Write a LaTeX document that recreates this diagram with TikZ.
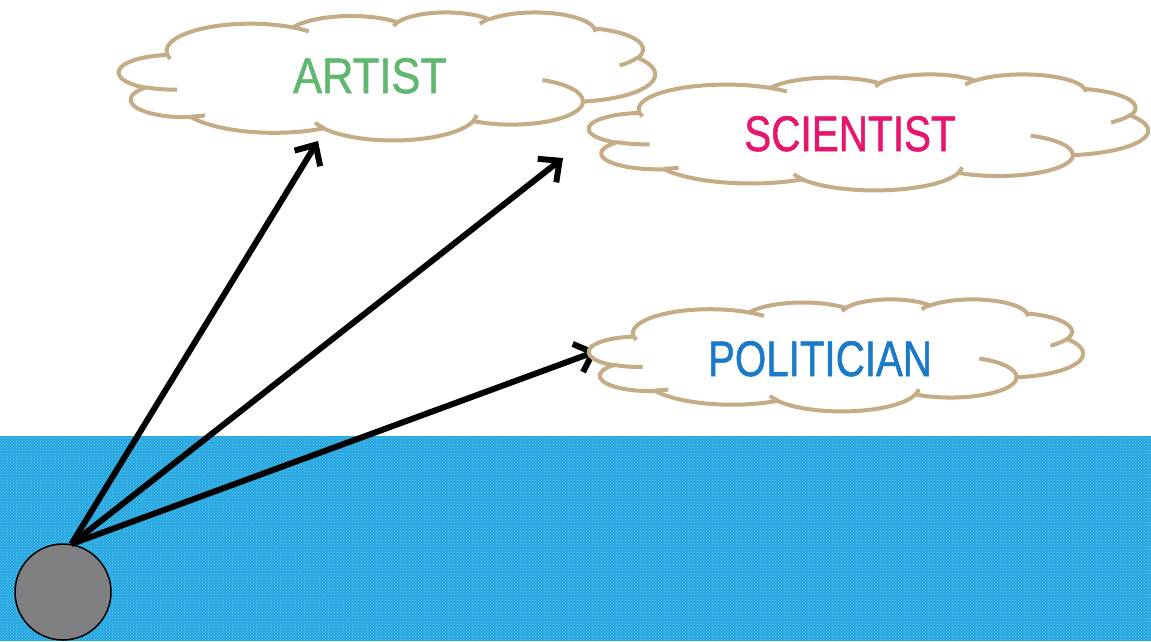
\documentclass[tikz,border=0pt]{standalone}
\usepackage{fontspec}
\setmainfont{Liberation Sans}
\newfontfamily\wordfont[FakeBold=1.2]{Liberation Sans}
\usepackage{graphicx}
\usetikzlibrary{arrows.meta,patterns}
\definecolor{cloudline}{RGB}{196,172,135}
\definecolor{seablue}{RGB}{40,168,224}
\definecolor{seadot}{RGB}{96,196,238}
\definecolor{persongray}{RGB}{128,128,131}
\definecolor{artistgreen}{RGB}{96,184,112}
\definecolor{scipink}{RGB}{230,22,110}
\definecolor{polblue}{RGB}{26,122,200}
% elliptical arc given DrawingML style (visual angles)
\newcommand\cloudarc[4]{%
  \pgfextra{%
    \pgfmathsetmacro\cloudtA{atan2((#1)*sin(#3),(#2)*cos(#3))}%
    \pgfmathsetmacro\cloudtB{atan2((#1)*sin((#3)+(#4)),(#2)*cos((#3)+(#4)))}%
    \pgfmathsetmacro\cloudd{mod(\cloudtB-(\cloudtA)+720,360)}%
    \global\let\gcloudtA\cloudtA
    \global\let\gcloudd\cloudd}%
  arc[start angle=\gcloudtA, delta angle=\gcloudd, x radius=#1pt, y radius=#2pt]}
\newcommand\drawcloud[4]{%
  \begin{scope}[shift={(#1,#2)},xscale=#3,yscale=#4]
    \filldraw[cloudout] (39.00,143.70)
      \cloudarc{67.53}{91.90}{-190.4875}{123.7805}
      \cloudarc{53.33}{72.67}{-144.1024}{89.9452}
      \cloudarc{43.65}{59.45}{-145.8079}{99.7230}
      \cloudarc{48.57}{65.95}{-130.9861}{117.2417}
      \cloudarc{53.33}{72.73}{-78.7089}{109.0269}
      \cloudarc{67.75}{92.20}{-46.2673}{130.2690}
      \cloudarc{57.85}{78.67}{0.6250}{114.0333}
      \cloudarc{67.52}{92.15}{22.4516}{115.1726}
      \cloudarc{77.20}{105.43}{66.2426}{75.7110}
      \cloudarc{43.60}{59.18}{-274.9421}{146.7356}
      \cloudarc{43.45}{59.45}{-246.8285}{152.5189}
      -- cycle;
    \draw[cloudin]
      (46.93,261.77) \cloudarc{43.45}{59.45}{86.7420}{26.4295}
      (69.28,348.99) \cloudarc{43.60}{59.18}{73.6105}{11.4475}
      (164.78,390.90) \cloudarc{67.52}{92.15}{137.6242}{14.0811}
      (288.27,347.51) \cloudarc{67.52}{92.15}{6.4533}{15.9984}
      (341.29,229.54) \cloudarc{57.85}{78.67}{-70.2924}{70.9174}
      (417.98,153.54) \cloudarc{53.33}{72.73}{30.3180}{27.7515}
      (383.24,54.26) \cloudarc{48.57}{65.95}{-13.7443}{14.8589}
      (290.78,39.52) \cloudarc{48.57}{65.95}{-149.1815}{18.1954}
      (221.41,47.20) \cloudarc{43.65}{59.45}{-163.4943}{17.6864}
      (140.00,51.92) \cloudarc{67.53}{91.90}{-66.7070}{12.3194}
      (41.27,157.89) \cloudarc{67.53}{91.90}{157.6544}{11.8582};
  \end{scope}}
\begin{document}
\begin{tikzpicture}[x=1pt,y=1pt,yscale=-1,
  cloudout/.style={draw=cloudline,line width=4pt,fill=white,line join=round},
  cloudin/.style={draw=cloudline,line width=4pt},
  arr/.style={line width=6pt,-{Straight Barb[length=16pt,width=30pt]}},
  word/.style={anchor=base,inner sep=0pt,font=\wordfont\fontsize{50}{50}\selectfont}]
\useasboundingbox (0,0) rectangle (1151,641);
\fill[white] (0,0) rectangle (1151,641);
% sea
\fill[seablue] (0,436) rectangle (1151,641);
\fill[pattern=crosshatch dots,pattern color=seadot] (0,436) rectangle (1151,641);
% person
\node[circle,draw=black,line width=1.5pt,fill=persongray,minimum size=96pt,inner sep=0pt] (p) at (63,592) {};
% arrow tips
\coordinate (tA) at (318,141);
\coordinate (tS) at (563,158);
\coordinate (tP) at (597,351);
\draw[arr] (p.80) -- (tA);
\draw[arr] (p.80) -- (tS);
\draw[arr] (p.80) -- (tP);
% clouds
\drawcloud{119}{12}{1.2407}{0.2963}
\drawcloud{589}{74}{1.2940}{0.2685}
\drawcloud{589}{299}{1.1435}{0.2593}
% words
\node[word,text=artistgreen] (artist) at (370,93) {\scalebox{0.87}[1]{ARTIST}};
\node[word,text=scipink] (scientist) at (850,151) {\scalebox{0.81}[1]{SCIENTIST}};
\node[word,text=polblue] (politician) at (820,376) {\scalebox{0.806}[1]{POLITICIAN}};
\end{tikzpicture}
\end{document}
